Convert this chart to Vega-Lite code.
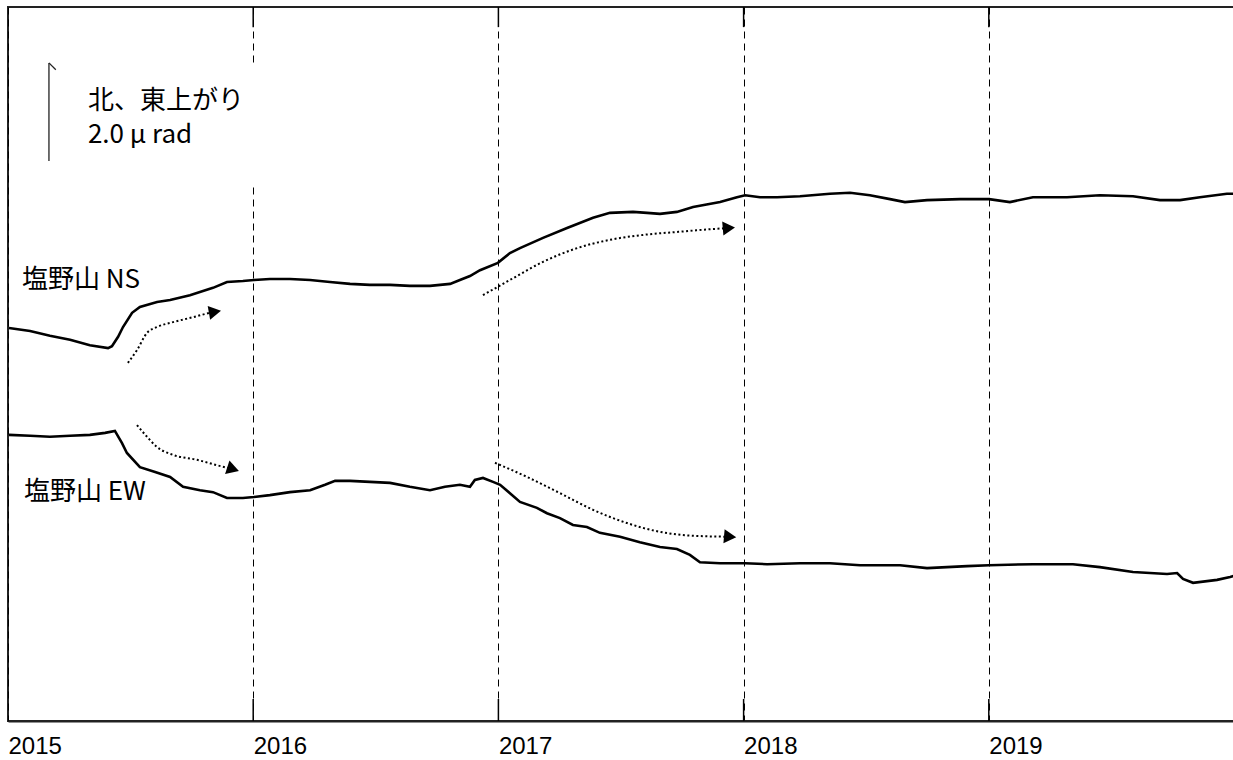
{
  "$schema": "https://vega.github.io/schema/vega-lite/v6.json",
  "width": 1229,
  "height": 714,
  "autosize": {"type": "none"},
  "padding": {"left": 8, "top": 7, "right": 0, "bottom": 39},
  "background": "white",
  "config": {"view": {"stroke": "#222", "strokeWidth": 2}, "font": "Noto Sans CJK JP"},
  "datasets": {
    "tilt": [
      {"c":"NS","t":2015.004,"v":8.02},{"c":"NS","t":2015.090,"v":7.96},{"c":"NS","t":2015.171,"v":7.86},{"c":"NS","t":2015.253,"v":7.78},{"c":"NS","t":2015.334,"v":7.67},{"c":"NS","t":2015.408,"v":7.61},{"c":"NS","t":2015.424,"v":7.65},{"c":"NS","t":2015.449,"v":7.84},{"c":"NS","t":2015.469,"v":8.04},{"c":"NS","t":2015.506,"v":8.33},{"c":"NS","t":2015.538,"v":8.45},{"c":"NS","t":2015.608,"v":8.55},{"c":"NS","t":2015.661,"v":8.59},{"c":"NS","t":2015.742,"v":8.69},{"c":"NS","t":2015.836,"v":8.84},{"c":"NS","t":2015.893,"v":8.96},{"c":"NS","t":2015.958,"v":8.98},{"c":"NS","t":2016.003,"v":9.00},{"c":"NS","t":2016.068,"v":9.02},{"c":"NS","t":2016.150,"v":9.02},{"c":"NS","t":2016.232,"v":9.00},{"c":"NS","t":2016.313,"v":8.96},{"c":"NS","t":2016.395,"v":8.92},{"c":"NS","t":2016.476,"v":8.90},{"c":"NS","t":2016.558,"v":8.90},{"c":"NS","t":2016.639,"v":8.88},{"c":"NS","t":2016.721,"v":8.88},{"c":"NS","t":2016.803,"v":8.92},{"c":"NS","t":2016.843,"v":9.00},{"c":"NS","t":2016.884,"v":9.08},{"c":"NS","t":2016.925,"v":9.20},{"c":"NS","t":2016.998,"v":9.35},{"c":"NS","t":2017.047,"v":9.55},{"c":"NS","t":2017.088,"v":9.65},{"c":"NS","t":2017.182,"v":9.86},{"c":"NS","t":2017.280,"v":10.06},{"c":"NS","t":2017.386,"v":10.27},{"c":"NS","t":2017.455,"v":10.37},{"c":"NS","t":2017.549,"v":10.39},{"c":"NS","t":2017.606,"v":10.37},{"c":"NS","t":2017.659,"v":10.35},{"c":"NS","t":2017.728,"v":10.39},{"c":"NS","t":2017.794,"v":10.49},{"c":"NS","t":2017.904,"v":10.59},{"c":"NS","t":2017.973,"v":10.69},{"c":"NS","t":2018.006,"v":10.73},{"c":"NS","t":2018.067,"v":10.69},{"c":"NS","t":2018.136,"v":10.69},{"c":"NS","t":2018.230,"v":10.71},{"c":"NS","t":2018.352,"v":10.76},{"c":"NS","t":2018.434,"v":10.78},{"c":"NS","t":2018.515,"v":10.73},{"c":"NS","t":2018.597,"v":10.65},{"c":"NS","t":2018.658,"v":10.59},{"c":"NS","t":2018.748,"v":10.63},{"c":"NS","t":2018.883,"v":10.65},{"c":"NS","t":2019.001,"v":10.65},{"c":"NS","t":2019.086,"v":10.59},{"c":"NS","t":2019.180,"v":10.69},{"c":"NS","t":2019.319,"v":10.69},{"c":"NS","t":2019.453,"v":10.73},{"c":"NS","t":2019.588,"v":10.71},{"c":"NS","t":2019.698,"v":10.63},{"c":"NS","t":2019.780,"v":10.63},{"c":"NS","t":2019.861,"v":10.69},{"c":"NS","t":2019.971,"v":10.76},{"c":"NS","t":2020.0,"v":10.76},
      {"c":"EW","t":2015.004,"v":5.84},{"c":"EW","t":2015.090,"v":5.82},{"c":"EW","t":2015.171,"v":5.80},{"c":"EW","t":2015.253,"v":5.82},{"c":"EW","t":2015.334,"v":5.84},{"c":"EW","t":2015.396,"v":5.88},{"c":"EW","t":2015.436,"v":5.92},{"c":"EW","t":2015.465,"v":5.67},{"c":"EW","t":2015.485,"v":5.47},{"c":"EW","t":2015.538,"v":5.18},{"c":"EW","t":2015.600,"v":5.08},{"c":"EW","t":2015.661,"v":4.98},{"c":"EW","t":2015.714,"v":4.78},{"c":"EW","t":2015.783,"v":4.71},{"c":"EW","t":2015.836,"v":4.67},{"c":"EW","t":2015.893,"v":4.55},{"c":"EW","t":2015.958,"v":4.55},{"c":"EW","t":2016.003,"v":4.57},{"c":"EW","t":2016.068,"v":4.61},{"c":"EW","t":2016.150,"v":4.67},{"c":"EW","t":2016.232,"v":4.71},{"c":"EW","t":2016.293,"v":4.82},{"c":"EW","t":2016.334,"v":4.90},{"c":"EW","t":2016.395,"v":4.90},{"c":"EW","t":2016.476,"v":4.88},{"c":"EW","t":2016.558,"v":4.86},{"c":"EW","t":2016.639,"v":4.78},{"c":"EW","t":2016.721,"v":4.71},{"c":"EW","t":2016.782,"v":4.78},{"c":"EW","t":2016.843,"v":4.82},{"c":"EW","t":2016.884,"v":4.78},{"c":"EW","t":2016.904,"v":4.92},{"c":"EW","t":2016.937,"v":4.96},{"c":"EW","t":2016.978,"v":4.88},{"c":"EW","t":2017.007,"v":4.82},{"c":"EW","t":2017.047,"v":4.65},{"c":"EW","t":2017.088,"v":4.47},{"c":"EW","t":2017.157,"v":4.35},{"c":"EW","t":2017.198,"v":4.24},{"c":"EW","t":2017.251,"v":4.14},{"c":"EW","t":2017.304,"v":4.00},{"c":"EW","t":2017.361,"v":3.96},{"c":"EW","t":2017.414,"v":3.84},{"c":"EW","t":2017.496,"v":3.76},{"c":"EW","t":2017.577,"v":3.65},{"c":"EW","t":2017.659,"v":3.55},{"c":"EW","t":2017.728,"v":3.51},{"c":"EW","t":2017.781,"v":3.39},{"c":"EW","t":2017.822,"v":3.24},{"c":"EW","t":2017.904,"v":3.22},{"c":"EW","t":2018.006,"v":3.22},{"c":"EW","t":2018.096,"v":3.20},{"c":"EW","t":2018.230,"v":3.22},{"c":"EW","t":2018.352,"v":3.22},{"c":"EW","t":2018.475,"v":3.18},{"c":"EW","t":2018.638,"v":3.18},{"c":"EW","t":2018.748,"v":3.12},{"c":"EW","t":2018.911,"v":3.16},{"c":"EW","t":2019.001,"v":3.18},{"c":"EW","t":2019.180,"v":3.20},{"c":"EW","t":2019.343,"v":3.20},{"c":"EW","t":2019.453,"v":3.14},{"c":"EW","t":2019.588,"v":3.04},{"c":"EW","t":2019.727,"v":3.00},{"c":"EW","t":2019.768,"v":3.02},{"c":"EW","t":2019.792,"v":2.90},{"c":"EW","t":2019.833,"v":2.82},{"c":"EW","t":2019.931,"v":2.88},{"c":"EW","t":2019.984,"v":2.94},{"c":"EW","t":2020.0,"v":2.96}
    ],
    "arrows": [
      {"id":"a1","i":0,"t":2015.489,"v":7.31},{"id":"a1","i":1,"t":2015.526,"v":7.57},{"id":"a1","i":2,"t":2015.567,"v":7.92},{"id":"a1","i":3,"t":2015.608,"v":8.04},{"id":"a1","i":4,"t":2015.673,"v":8.14},{"id":"a1","i":5,"t":2015.754,"v":8.24},{"id":"a1","i":6,"t":2015.824,"v":8.33},{"id":"a1","i":7,"t":2015.844,"v":8.35},
      {"id":"a2","i":0,"t":2015.526,"v":6.04},{"id":"a2","i":1,"t":2015.567,"v":5.80},{"id":"a2","i":2,"t":2015.608,"v":5.59},{"id":"a2","i":3,"t":2015.673,"v":5.43},{"id":"a2","i":4,"t":2015.771,"v":5.33},{"id":"a2","i":5,"t":2015.852,"v":5.22},{"id":"a2","i":6,"t":2015.918,"v":5.14},
      {"id":"a3","i":0,"t":2016.937,"v":8.69},{"id":"a3","i":1,"t":2017.047,"v":9.00},{"id":"a3","i":2,"t":2017.182,"v":9.37},{"id":"a3","i":3,"t":2017.321,"v":9.65},{"id":"a3","i":4,"t":2017.455,"v":9.82},{"id":"a3","i":5,"t":2017.590,"v":9.92},{"id":"a3","i":6,"t":2017.728,"v":9.98},{"id":"a3","i":7,"t":2017.875,"v":10.04},{"id":"a3","i":8,"t":2017.940,"v":10.06},
      {"id":"a4","i":0,"t":2016.986,"v":5.27},{"id":"a4","i":1,"t":2017.117,"v":4.98},{"id":"a4","i":2,"t":2017.251,"v":4.65},{"id":"a4","i":3,"t":2017.386,"v":4.31},{"id":"a4","i":4,"t":2017.524,"v":4.04},{"id":"a4","i":5,"t":2017.659,"v":3.86},{"id":"a4","i":6,"t":2017.794,"v":3.78},{"id":"a4","i":7,"t":2017.945,"v":3.76}
    ],
    "heads": [
      {"id":"a1","t":2015.844,"v":8.35,"a":-10},
      {"id":"a2","t":2015.918,"v":5.14,"a":18},
      {"id":"a3","t":2017.940,"v":10.06,"a":-5},
      {"id":"a4","t":2017.945,"v":3.76,"a":5}
    ],
    "labels": [
      {"t":2015.326,"v":12.65,"txt":"北、東上がり"},
      {"t":2015.326,"v":11.96,"txt":"2.0 μ rad"},
      {"t":2015.057,"v":9.0,"txt":"塩野山 NS"},
      {"t":2015.065,"v":4.67,"txt":"塩野山 EW"}
    ],
    "ticks": [
      {"t":2016,"y1":0,"y2":0.45},{"t":2017,"y1":0,"y2":0.45},{"t":2018,"y1":0,"y2":0.45},{"t":2019,"y1":0,"y2":0.45},
      {"t":2016,"y1":14.16,"y2":14.571},{"t":2017,"y1":14.16,"y2":14.571},{"t":2018,"y1":14.16,"y2":14.571},{"t":2019,"y1":14.16,"y2":14.571}
    ],
    "scalebar": [
      {"t1":2015.167,"v1":11.43,"t2":2015.167,"v2":13.43},
      {"t1":2015.167,"v1":13.43,"t2":2015.195,"v2":13.29}
    ],
    "box": [{"t1":2015.12,"t2":2016.05,"v1":10.98,"v2":13.37}]
  },
  "layer": [
    {
      "data": {"name": "box"},
      "mark": {"type": "rect", "fill": "white", "stroke": null},
      "encoding": {
        "x": {"field": "t1", "type": "quantitative",
          "scale": {"domain": [2015, 2020.0122], "nice": false, "zero": false},
          "axis": {"values": [2015, 2016, 2017, 2018, 2019], "format": "d", "title": null,
            "grid": true, "gridDash": [7, 5], "gridColor": "black", "gridOpacity": 1, "gridWidth": 1,
            "ticks": false, "domain": true, "domainColor": "#222", "domainWidth": 2,
            "labelAlign": "left", "labelBaseline": "top", "labelFont": "Liberation Sans",
            "labelFontSize": 24, "labelFontWeight": "normal", "labelColor": "black", "labelPadding": 13, "labelFlush": false, "labelOverlap": false}},
        "x2": {"field": "t2"},
        "y": {"field": "v1", "type": "quantitative", "scale": {"domain": [0, 14.571], "nice": false, "zero": false}, "axis": null},
        "y2": {"field": "v2"}
      }
    },
    {
      "data": {"name": "ticks"},
      "mark": {"type": "rule", "color": "black", "strokeWidth": 1.5},
      "encoding": {
        "x": {"field": "t", "type": "quantitative"},
        "y": {"field": "y1", "type": "quantitative"},
        "y2": {"field": "y2"}
      }
    },
    {
      "data": {"name": "scalebar"},
      "mark": {"type": "rule", "color": "#222", "strokeWidth": 1.3},
      "encoding": {
        "x": {"field": "t1", "type": "quantitative"},
        "x2": {"field": "t2"},
        "y": {"field": "v1", "type": "quantitative"},
        "y2": {"field": "v2"}
      }
    },
    {
      "data": {"name": "tilt"},
      "mark": {"type": "line", "color": "black", "strokeWidth": 2.6},
      "encoding": {
        "x": {"field": "t", "type": "quantitative"},
        "y": {"field": "v", "type": "quantitative"},
        "detail": {"field": "c"}
      }
    },
    {
      "data": {"name": "arrows"},
      "mark": {"type": "line", "color": "black", "strokeWidth": 2, "strokeDash": [2, 2.5], "interpolate": "monotone"},
      "encoding": {
        "x": {"field": "t", "type": "quantitative"},
        "y": {"field": "v", "type": "quantitative"},
        "detail": {"field": "id"},
        "order": {"field": "i"}
      }
    },
    {
      "data": {"name": "heads"},
      "mark": {"type": "point", "shape": "triangle-right", "filled": true, "color": "black", "opacity": 1, "size": 200},
      "encoding": {
        "x": {"field": "t", "type": "quantitative"},
        "y": {"field": "v", "type": "quantitative"},
        "angle": {"field": "a", "type": "quantitative", "scale": null}
      }
    },
    {
      "data": {"name": "labels"},
      "mark": {"type": "text", "align": "left", "baseline": "middle", "fontSize": 26, "font": "Noto Sans CJK JP", "color": "black"},
      "encoding": {
        "x": {"field": "t", "type": "quantitative"},
        "y": {"field": "v", "type": "quantitative"},
        "text": {"field": "txt"}
      }
    }
  ]
}
